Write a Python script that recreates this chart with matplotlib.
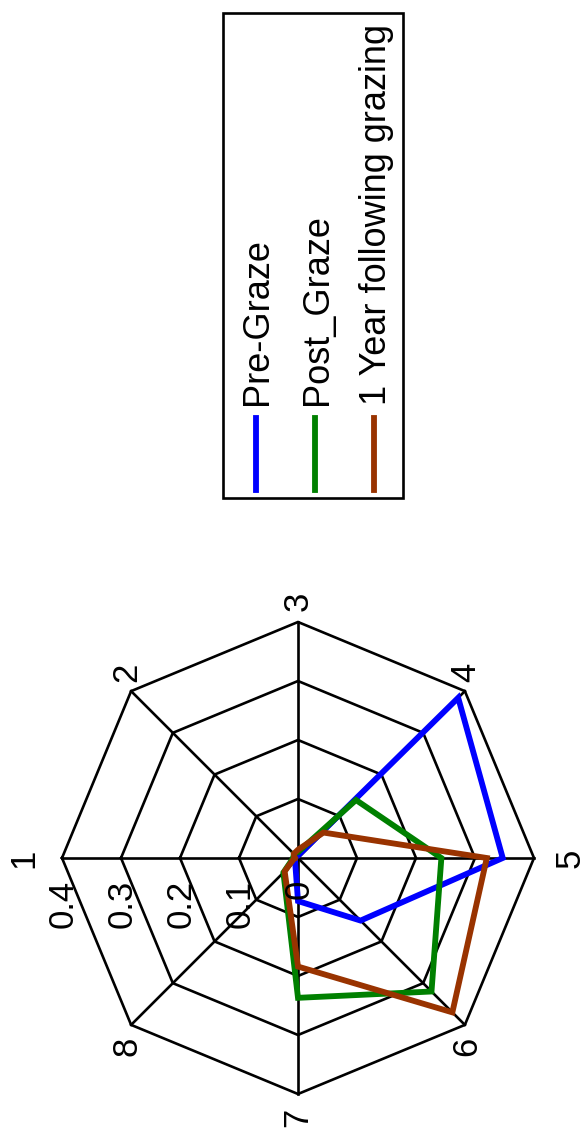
import numpy as np
import matplotlib
matplotlib.use("Agg")
import matplotlib.pyplot as plt
from matplotlib.patches import Rectangle
from matplotlib.lines import Line2D

plt.rcParams['font.family'] = ['Liberation Sans', 'DejaVu Sans']

# ---------------- data ----------------
axis_labels = ['1', '2', '3', '4', '5', '6', '7', '8']
pre_graze = [0.005, 0.006, 0.004, 0.384, 0.347, 0.150, 0.073, 0.007]
post_graze = [0.008, 0.010, 0.010, 0.139, 0.243, 0.320, 0.237, 0.035]
one_year = [0.006, 0.010, 0.014, 0.061, 0.320, 0.370, 0.184, 0.032]
series_names = ['Pre-Graze', 'Post_Graze', '1 Year following grazing']
series_colors = ['#0000FF', '#008000', '#993300']
ring_levels = [0.1, 0.2, 0.3, 0.4]
tick_values = [0.0, 0.1, 0.2, 0.3, 0.4]
tick_labels = ['0', '0.1', '0.2', '0.3', '0.4']

# ---------------- layout ----------------
W, H = 585, 1131
FS = 25
FS_LEG = 26
GRID_LW = 1.9
DATA_LW = 4.2
fig = plt.figure(figsize=(W / 100, H / 100), dpi=100)
cx, cy, R = 298, 858, 236
ax = fig.add_axes([(cx - R) / W, 1 - (cy + R) / H, 2 * R / W, 2 * R / H],
                  projection='polar')
ax.set_theta_offset(np.pi)
ax.set_theta_direction(-1)
ax.set_ylim(0, ring_levels[-1])
ax.grid(False)
ax.spines['polar'].set_visible(False)
ax.set_xticks([])
ax.set_yticks([])
ax.patch.set_visible(False)

n = len(axis_labels)
theta = np.arange(n) * 2 * np.pi / n
closed = np.append(theta, theta[0])

for r in ring_levels:
    ax.plot(closed, [r] * (n + 1), color='black', lw=GRID_LW, clip_on=False,
            zorder=2, solid_joinstyle='miter')
for t in theta:
    ax.plot([t, t], [0, ring_levels[-1]], color='black', lw=GRID_LW,
            clip_on=False, zorder=2)

all_series = [pre_graze, post_graze, one_year]
for vals, c in zip(all_series, series_colors):
    ax.plot(closed, list(vals) + [vals[0]], color=c, lw=DATA_LW, clip_on=False,
            zorder=3, solid_joinstyle='miter')

# axis labels (offsets in image pixels: +x right, +y down)
label_offsets = [(-38, 0), (-4, -19), (0, -21), (1, -19),
                 (36, 0), (2, 21), (0, 23), (-4, 21)]
for t, lab, (dx, dy) in zip(theta, axis_labels, label_offsets):
    ax.annotate(lab, xy=(t, ring_levels[-1]), xytext=(dx, -dy),
                textcoords='offset pixels', rotation=90, ha='center',
                va='center', fontsize=FS, annotation_clip=False)

# radial tick labels along axis 1
for v, lab in zip(tick_values, tick_labels):
    ax.annotate(lab, xy=(theta[0], v), xytext=(1, -22),
                textcoords='offset pixels', rotation=90,
                rotation_mode='anchor', ha='right', va='center',
                fontsize=FS, annotation_clip=False)

# ---------------- legend (rotated, drawn manually) ----------------
box_l, box_t, box_r, box_b = 223, 13, 403, 498
fig.add_artist(Rectangle((box_l / W, 1 - box_b / H), (box_r - box_l) / W,
                         (box_b - box_t) / H, transform=fig.transFigure,
                         fill=False, edgecolor='black', lw=GRID_LW))
x0, dxs = 255.5, 59.3
for i, (name, c) in enumerate(zip(series_names, series_colors)):
    x = x0 + i * dxs
    fig.add_artist(Line2D([x / W, x / W], [1 - 490 / H, 1 - 418 / H],
                          transform=fig.transFigure, color=c, lw=DATA_LW))
    fig.text((x + 12) / W, 1 - 405 / H, name, rotation=90,
             rotation_mode='anchor', ha='left', va='baseline', fontsize=FS_LEG)

fig.savefig('out.png', dpi=100)
